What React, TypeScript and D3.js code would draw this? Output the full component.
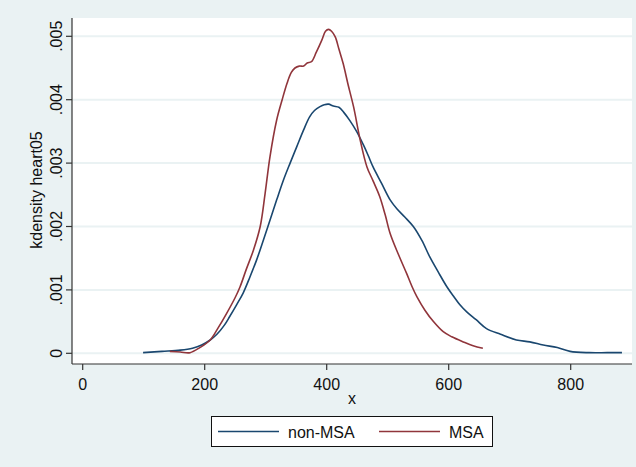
import React from "react";
import * as d3 from "d3";

const nonMsaX = [99, 130, 160, 180, 195, 209, 220, 232, 241, 252, 263, 274, 285, 296, 307, 318, 329, 340, 351, 362, 372, 380, 389, 396, 403, 411, 420, 428, 438, 449, 460, 468, 476, 490, 504, 515, 528, 542, 556, 569, 583, 597, 608, 618, 630, 645, 662, 685, 711, 733, 755, 778, 799, 830, 860, 884];
const nonMsaY = [0.00001, 0.00003, 0.00005, 0.00008, 0.00013, 0.00021, 0.0003, 0.00044, 0.00058, 0.00076, 0.00095, 0.0012, 0.00147, 0.00178, 0.0021, 0.00242, 0.00273, 0.003, 0.00326, 0.00352, 0.00373, 0.00383, 0.00389, 0.00392, 0.00393, 0.0039, 0.00388, 0.0038, 0.00367, 0.0035, 0.00329, 0.00312, 0.00294, 0.00268, 0.00242, 0.00228, 0.00215, 0.002, 0.00178, 0.00152, 0.00128, 0.00105, 0.0009, 0.00077, 0.00065, 0.00053, 0.00039, 0.0003, 0.00021, 0.00018, 0.00013, 0.00009, 0.00003, 0.00001, 0.00001, 0.00001];

const msaX = [143, 160, 176, 192, 209, 222, 236, 250, 258, 268, 280, 291, 299, 307, 318, 327, 335, 342, 348, 355, 362, 368, 375, 383, 392, 398, 403, 408, 414, 420, 427, 435, 444, 455, 466, 476, 487, 496, 504, 518, 531, 540, 548, 561, 575, 591, 605, 624, 640, 656];
const msaY = [0.00003, 0.00002, 0.00001, 0.00009, 0.00021, 0.0004, 0.00063, 0.00088, 0.00105, 0.00132, 0.00163, 0.002, 0.00252, 0.0031, 0.00368, 0.004, 0.00426, 0.00443, 0.0045, 0.00453, 0.00453, 0.00458, 0.0046, 0.00475, 0.00494, 0.00508, 0.00511, 0.00508, 0.00499, 0.0048, 0.00457, 0.00424, 0.00389, 0.00336, 0.00294, 0.00272, 0.00247, 0.00218, 0.00189, 0.00155, 0.00126, 0.00105, 0.00089, 0.00068, 0.0005, 0.00034, 0.00026, 0.00018, 0.00012, 0.00008];

const xTicks = [0, 200, 400, 600, 800];
const yTicks = [0, 0.001, 0.002, 0.003, 0.004, 0.005];
const yTickLabels = ["0", ".001", ".002", ".003", ".004", ".005"];
const seriesNames = ["non-MSA", "MSA"];

const W = 636;
const H = 467;
const plotL = 72;
const plotR = 632;
const plotT = 18;
const plotB = 364;
const FONT = "'Liberation Sans', Arial, sans-serif";
const BG = "#EAF2F3";
const NAVY = "#1a476f";
const MAROON = "#90353b";

export default function App() {
  const x = d3.scaleLinear().domain([0, 800]).range([82.7, 570.7]);
  const y = d3.scaleLinear().domain([0, 0.005]).range([353.3, 36.3]);

  const line = d3
    .line<[number, number]>()
    .x((d) => x(d[0]))
    .y((d) => y(d[1]))
    .curve(d3.curveCatmullRom.alpha(0.5));

  const nonMsa: [number, number][] = nonMsaX.map((v, i) => [v, nonMsaY[i]]);
  const msa: [number, number][] = msaX.map((v, i) => [v, msaY[i]]);

  return (
    <svg
      width={W}
      height={H}
      style={{ position: "absolute", left: 0, top: 0, fontFamily: FONT }}
    >
      <rect x={0} y={0} width={W} height={H} fill={BG} />
      <rect x={plotL} y={plotT} width={plotR - plotL} height={plotB - plotT} fill="#ffffff" />
      {yTicks.map((t) => (
        <line key={"g" + t} x1={plotL} x2={plotR} y1={y(t)} y2={y(t)} stroke={BG} strokeWidth={2} />
      ))}
      <path d={line(nonMsa) || ""} fill="none" stroke={NAVY} strokeWidth={1.6} />
      <path d={line(msa) || ""} fill="none" stroke={MAROON} strokeWidth={1.6} />
      {/* axes */}
      <line x1={plotL} x2={plotL} y1={plotT} y2={plotB} stroke="#333" strokeWidth={1.2} />
      <line x1={plotL} x2={plotR} y1={plotB} y2={plotB} stroke="#333" strokeWidth={1.2} />
      {yTicks.map((t, i) => (
        <g key={"yt" + t}>
          <line x1={plotL - 6} x2={plotL} y1={y(t)} y2={y(t)} stroke="#333" strokeWidth={1.2} />
          <text
            transform={`translate(${62},${y(t)}) rotate(-90)`}
            textAnchor="middle"
            fontSize={16}
            fill="#111"
          >
            {yTickLabels[i]}
          </text>
        </g>
      ))}
      {xTicks.map((t) => (
        <g key={"xt" + t}>
          <line x1={x(t)} x2={x(t)} y1={plotB} y2={plotB + 6} stroke="#333" strokeWidth={1.2} />
          <text x={x(t)} y={389.5} textAnchor="middle" fontSize={16} fill="#111">
            {t}
          </text>
        </g>
      ))}
      <text x={(plotL + plotR) / 2} y={404} textAnchor="middle" fontSize={16} fill="#111">
        x
      </text>
      <text
        transform={`translate(${42},${190}) rotate(-90)`}
        textAnchor="middle"
        fontSize={16}
        fill="#111"
      >
        kdensity heart05
      </text>
      {/* legend */}
      <rect x={211.5} y={416.5} width={281} height={30} fill="#ffffff" stroke="#111" strokeWidth={1} />
      <line x1={218} x2={279} y1={431.5} y2={431.5} stroke={NAVY} strokeWidth={1.6} />
      <text x={288} y={438} fontSize={16} fill="#111">
        {seriesNames[0]}
      </text>
      <line x1={379} x2={440} y1={431.5} y2={431.5} stroke={MAROON} strokeWidth={1.6} />
      <text x={449} y={438} fontSize={16} fill="#111">
        {seriesNames[1]}
      </text>
    </svg>
  );
}
